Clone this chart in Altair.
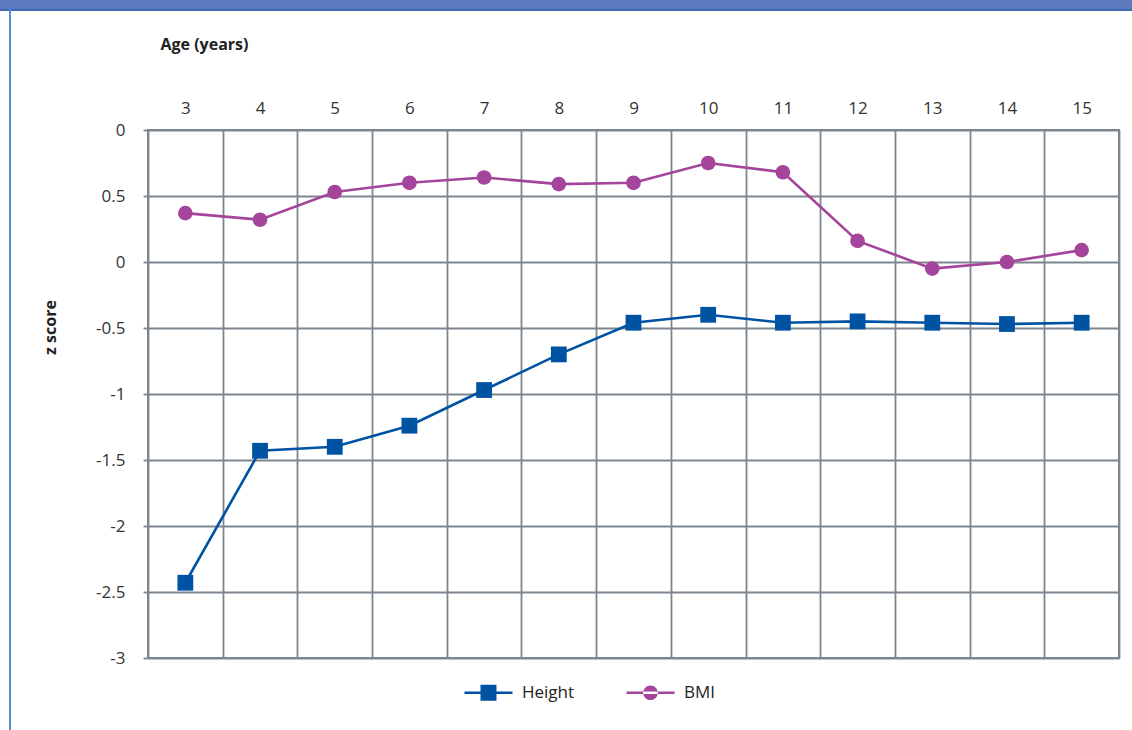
import altair as alt
import pandas as pd

# ---- data ----
ages = [3, 4, 5, 6, 7, 8, 9, 10, 11, 12, 13, 14, 15]
height_z = [-2.43, -1.43, -1.40, -1.24, -0.97, -0.70, -0.46, -0.40, -0.46, -0.45, -0.46, -0.47, -0.46]
bmi_z = [0.37, 0.32, 0.53, 0.60, 0.64, 0.59, 0.60, 0.75, 0.68, 0.16, -0.05, 0.00, 0.09]
series_names = ["Height", "BMI"]
series_colors = ["#0053a3", "#a4449b"]
y_tick_values = [1, 0.5, 0, -0.5, -1, -1.5, -2, -2.5, -3]
y_tick_labels = ["0", "0.5", "0", "-0.5", "-1", "-1.5", "-2", "-2.5", "-3"]

rows = []
for a, h in zip(ages, height_z):
    rows.append({"age": a, "z": h, "series": "Height"})
for a, b in zip(ages, bmi_z):
    rows.append({"age": a, "z": b, "series": "BMI"})
df = pd.DataFrame(rows)

label_expr = " : ".join(
    f"datum.value == {v} ? '{l}'" for v, l in zip(y_tick_values, y_tick_labels)
) + " : ''"

GRID = "#7d868e"
FONT = "Open Sans"

x_enc = alt.X(
    "age:O",
    scale=alt.Scale(type="band", paddingInner=0, paddingOuter=0),
    axis=alt.Axis(
        orient="top", title="Age (years)", labelAngle=0, ticks=False, tickSize=0,
        tickBand="extent", domain=False, grid=True, gridColor=GRID, gridWidth=1.8,
        labelFont=FONT, labelFontSize=17, labelColor="#333333", labelPadding=13,
        titleFont=FONT, titleFontSize=16, titleFontWeight="bold", titleColor="#222222",
        titleAnchor="start", titleAlign="left", titleBaseline="middle",
        titleX=12, titleY=-86,
    ),
)
y_enc = alt.Y(
    "z:Q",
    scale=alt.Scale(domain=[-3, 1], nice=False, zero=False),
    axis=alt.Axis(
        values=y_tick_values, labelExpr=label_expr, title="z score",
        grid=True, gridColor=GRID, gridWidth=1.8, domain=False,
        ticks=True, tickSize=5, tickColor=GRID, tickWidth=1.8,
        labelFont=FONT, labelFontSize=17, labelColor="#333333", labelPadding=18,
        titleFont=FONT, titleFontSize=16, titleFontWeight="bold", titleColor="#222222",
        titleAngle=270, titleAlign="center", titleBaseline="middle",
        titleX=-98, titleY=197,
    ),
)

color_scale = alt.Scale(domain=series_names, range=series_colors)

lines = alt.Chart(df).mark_line(strokeWidth=2.6).encode(
    x=x_enc, y=y_enc,
    color=alt.Color("series:N", scale=color_scale, legend=None),
    detail="series:N",
)

points = alt.Chart(df).mark_point(filled=True, opacity=1, strokeWidth=0).encode(
    x=x_enc, y=y_enc,
    color=alt.Color("series:N", scale=color_scale, legend=None),
    shape=alt.Shape("series:N", scale=alt.Scale(domain=series_names, range=["square", "circle"]), legend=None),
    size=alt.Size("series:N", scale=alt.Scale(domain=series_names, range=[250, 215]), legend=None),
)

sq_path = "M-3,-0.15 H3 V0.15 H-3 Z M-1,-1 H1 V1 H-1 Z"
ci_path = "M-3,-0.15 H3 V0.15 H-3 Z M-0.92,0 A0.92,0.92 0 1,0 0.92,0 A0.92,0.92 0 1,0 -0.92,0 Z"

legend_props = dict(
    title=None, orient="none", legendX=332, legendY=554, direction="horizontal",
    symbolSize=256, symbolStrokeWidth=0, labelFont=FONT, labelFontSize=17,
    labelColor="#222222", labelOffset=25, columnPadding=51, padding=0,
)

legend_layer = alt.Chart(df).mark_point(filled=True, opacity=1, strokeWidth=0, clip=True).encode(
    x=x_enc,
    y=alt.value(-3000),
    color=alt.Color("series:N", scale=color_scale, legend=alt.Legend(**legend_props)),
    shape=alt.Shape(
        "series:N", scale=alt.Scale(domain=series_names, range=[sq_path, ci_path]),
        legend=alt.Legend(**legend_props),
    ),
)

deco = alt.Data(values=[{"k": 1}])
top_band = alt.Chart(deco).mark_rect(color="#5b7bbe").encode(
    x=alt.value(-148), x2=alt.value(984), y=alt.value(-130), y2=alt.value(-121)
)
top_line = alt.Chart(deco).mark_rect(color="#3d68b3").encode(
    x=alt.value(-148), x2=alt.value(984), y=alt.value(-121), y2=alt.value(-119)
)
left_line = alt.Chart(deco).mark_rect(color="#5b8fd1").encode(
    x=alt.value(-139), x2=alt.value(-137), y=alt.value(-121), y2=alt.value(600)
)

chart = alt.layer(top_band, top_line, left_line, lines, points, legend_layer).resolve_scale(
    color="independent", shape="independent"
).properties(
    width=971, height=528, autosize="none",
    padding={"left": 148, "top": 130, "right": 13, "bottom": 72},
    background="white",
).configure_view(stroke=GRID, strokeWidth=2)

chart.save("out.html", embed_options={"renderer": "svg", "actions": False})
